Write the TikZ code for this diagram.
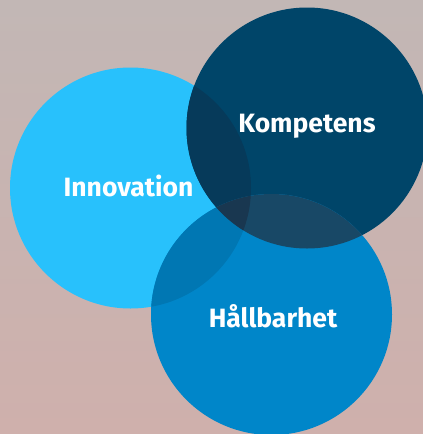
\documentclass[tikz,border=0pt]{standalone}
\usepackage{fontspec}
\setmainfont{Fira Sans}
\definecolor{bgtop}{RGB}{194,183,181}
\definecolor{bgbot}{RGB}{207,176,172}
\definecolor{innov}{RGB}{40,193,252}
\definecolor{komp}{RGB}{0,69,105}
\definecolor{hall}{RGB}{0,134,201}
\definecolor{innkom}{RGB}{6,58,90}
\definecolor{halkom}{RGB}{24,72,102}
\definecolor{innhal}{RGB}{0,119,179}
\definecolor{alla}{RGB}{25,55,80}
\newcommand{\rad}{120.5pt}
\tikzset{
  label text/.style={text=white, font=\bfseries\fontsize{26.5}{30}\selectfont, anchor=base}
}

\begin{document}
\begin{tikzpicture}[x=1pt,y=-1pt]
\useasboundingbox (0,0) rectangle (423,434);
% Background
\shade[top color=bgtop, bottom color=bgbot] (0,0) rectangle (423,434);
% Centres
\coordinate (inn) at (130.5,188);
\coordinate (kom) at (307,128);
\coordinate (hal) at (271.5,314.5);
% Circles
\fill[innov] (inn) circle (\rad);
\fill[komp] (kom) circle (\rad);
\fill[hall] (hal) circle (\rad);
% Overlaps
\begin{scope}
\clip (inn) circle (\rad);
\fill[innkom] (kom) circle (\rad);
\fill[innhal] (hal) circle (\rad);
\end{scope}
\begin{scope}
\clip (kom) circle (\rad);
\fill[halkom] (hal) circle (\rad);
\clip (hal) circle (\rad);
\fill[alla] (inn) circle (\rad);
\end{scope}
% Labels
\node[label text] (innlabel) at (128.5,196) {Innovation};
\node[label text] (komlabel) at (307,132) {Kompetens};
\node[label text] (hallabel) at (273,327) {Hållbarhet};
\end{tikzpicture}
\end{document}
